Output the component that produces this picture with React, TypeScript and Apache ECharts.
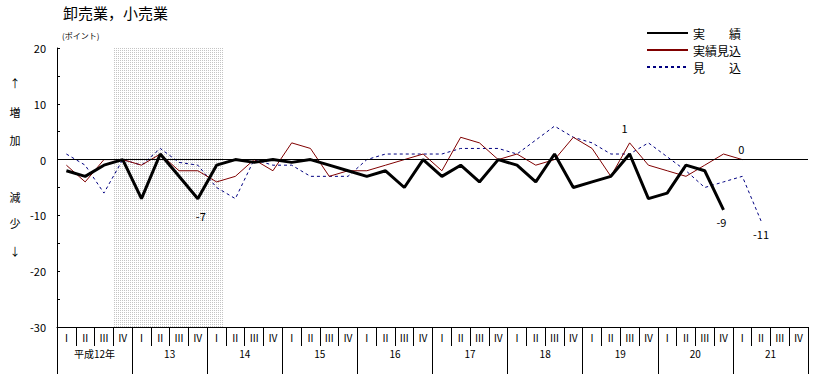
import React, { useEffect, useRef } from 'react';
import * as echarts from 'echarts';

const years = ['12', '13', '14', '15', '16', '17', '18', '19', '20', '21'];
const yearLabels = ['平成12年', '13', '14', '15', '16', '17', '18', '19', '20', '21'];
const quarterLabels = ['Ⅰ', 'Ⅱ', 'Ⅲ', 'Ⅳ'];
const quarterKeys = years.flatMap((y) => quarterLabels.map((_, i) => `${y}-${i + 1}`));

const seriesNames = ['実　　績', '実績見込', '見　　込'];

// 実績 (actual)
const actual = [
  -2, -3, -1, 0, -7, 1, -3, -7, -1, 0, -0.5, 0, -0.5, 0, -1, -2, -3, -2, -5, 0,
  -3, -1, -4, 0, -1, -4, 1, -5, -4, -3, 1, -7, -6, -1, -2, -9,
];
// 実績見込 (estimate)
const estimate = [
  -1, -4, 0, 0, -1, 1, -2, -2, -4, -3, 0, -2, 3, 2, -3, -2, -2, -1, 0, 1,
  -2, 4, 3, 0, 1, -1, 0, 4, 2, -3, 3, -1, -2, -3, -1, 1, 0,
];
// 見込 (forecast)
const forecast = [
  1, -1, -6, 0, -1, 2, -0.5, -1, -5, -7, 0, -1, -1, -3, -3, -3, 0, 1, 1, 1,
  1, 2, 2, 2, 1, 3.5, 6, 4, 3, 1, 1, 3, 0.5, -2, -5, -4, -3, -11,
];

// shaded period, in quarter units from the left edge
const shadeStart = 3;
const shadeEnd = 8.85;

const yMin = -30;
const yMax = 20;

const FONT = '"Noto Sans CJK JP", "Noto Sans", sans-serif';

export default function App() {
  const ref = useRef<HTMLDivElement>(null);

  useEffect(() => {
    if (!ref.current) return;
    const chart = echarts.init(ref.current, undefined, { renderer: 'svg' });

    const tile = document.createElement('canvas');
    tile.width = 2;
    tile.height = 2;
    const ctx = tile.getContext('2d');
    if (ctx) {
      ctx.fillStyle = '#ffffff';
      ctx.fillRect(0, 0, 2, 2);
      ctx.fillStyle = '#c4c4c4';
      ctx.fillRect(0, 0, 1, 1);
    }

    const labelStyle = { show: true, position: 'inside', color: '#000', fontSize: 11, fontFamily: FONT, formatter: '{c}' };
    const mp = (idx: number, arr: number[], offset: number[]) => ({
      coord: [idx, arr[idx]],
      value: arr[idx],
      label: { ...labelStyle, offset },
    });
    const markPointBase = { symbol: 'circle', symbolSize: 1, itemStyle: { color: 'rgba(0,0,0,0)' }, silent: true };

    const option: any = {
      animation: false,
      textStyle: { fontFamily: FONT },
      grid: { left: 57, right: 5, top: 48, bottom: 47, outerBoundsMode: 'none' },
      legend: {
        orient: 'vertical',
        left: 641,
        top: 22,
        itemWidth: 41,
        itemHeight: 12,
        itemGap: 5,
        data: seriesNames,
        itemStyle: { opacity: 0 },
        textStyle: { fontSize: 12, color: '#000', fontFamily: FONT },
        selectedMode: false,
      },
      xAxis: [
        {
          type: 'category',
          data: quarterKeys,
          boundaryGap: true,
          axisLine: { onZero: false, lineStyle: { color: '#000', width: 1 } },
          axisTick: { show: true, interval: 0, length: 19, lineStyle: { color: '#000' } },
          axisLabel: {
            interval: 0,
            margin: 5,
            fontSize: 10,
            color: '#000',
            fontFamily: FONT,
            formatter: (_: string, i: number) => quarterLabels[i % 4],
          },
          splitLine: { show: false },
        },
        {
          type: 'category',
          data: yearLabels,
          position: 'bottom',
          offset: 19,
          boundaryGap: true,
          axisLine: { show: false, onZero: false },
          axisTick: { show: true, interval: 0, length: 28, lineStyle: { color: '#000' } },
          axisLabel: { interval: 0, margin: 2, fontSize: 10, color: '#000', fontFamily: FONT },
          splitLine: { show: false },
        },
        {
          type: 'value',
          min: 0,
          max: quarterKeys.length,
          show: false,
          splitLine: { show: false },
        },
      ],
      yAxis: {
        type: 'value',
        min: yMin,
        max: yMax,
        interval: 5,
        axisLine: { show: true, lineStyle: { color: '#000', width: 1 } },
        axisTick: { show: true, inside: true, length: 3, lineStyle: { color: '#000' } },
        axisLabel: {
          margin: 11,
          fontSize: 11,
          color: '#000',
          fontFamily: FONT,
          formatter: (v: number) => (v % 10 === 0 ? String(v) : ''),
        },
        splitLine: { show: false },
      },
      series: [
        {
          name: 'shade',
          type: 'line',
          xAxisIndex: 2,
          data: [],
          silent: true,
          markArea: {
            silent: true,
            itemStyle: { color: { image: tile, repeat: 'repeat' } },
            data: [[{ xAxis: shadeStart, yAxis: yMax }, { xAxis: shadeEnd, yAxis: yMin }]],
          },
        },
        {
          name: seriesNames[2],
          type: 'line',
          data: forecast,
          symbol: 'none',
          lineStyle: { color: '#000080', width: 1, type: [3, 3] },
          itemStyle: { color: '#000080' },
          markPoint: { ...markPointBase, data: [mp(37, forecast, [0, 13])] },
          z: 3,
        },
        {
          name: seriesNames[1],
          type: 'line',
          data: estimate,
          symbol: 'none',
          lineStyle: { color: '#800000', width: 1 },
          itemStyle: { color: '#800000' },
          markPoint: { ...markPointBase, data: [mp(36, estimate, [-1, -11])] },
          markLine: {
            silent: true,
            symbol: 'none',
            label: { show: false },
            lineStyle: { color: '#000', width: 1, type: 'solid' },
            data: [{ yAxis: 0 }],
          },
          z: 3,
        },
        {
          name: seriesNames[0],
          type: 'line',
          data: actual,
          symbol: 'none',
          lineStyle: { color: '#000', width: 3 },
          itemStyle: { color: '#000' },
          markPoint: {
            ...markPointBase,
            data: [mp(7, actual, [3, 17]), mp(30, actual, [-5, -26]), mp(35, actual, [-2, 12])],
          },
          z: 4,
        },
      ],
      graphic: [
        { type: 'text', x: 63, y: 12, style: { text: '卸売業，小売業', font: `15px ${FONT}`, fill: '#000', verticalAlign: 'middle' } },
        { type: 'text', x: 62, y: 35, style: { text: '(ポイント)', font: `8px ${FONT}`, fill: '#000', verticalAlign: 'middle' } },
        ...[
          ['↑', 83],
          ['増', 112],
          ['加', 140],
          ['減', 197],
          ['少', 223],
          ['↓', 251],
        ].map(([t, y]) => ({
          type: 'text',
          x: 15,
          y: y as number,
          style: { text: t as string, font: `11px ${FONT}`, fill: '#000', align: 'center', verticalAlign: 'middle' },
        })),
      ],
    };

    chart.setOption(option);
    return () => chart.dispose();
  }, []);

  return <div ref={ref} style={{ position: 'fixed', left: 0, top: 0, width: 813, height: 374, background: '#fff' }} />;
}
